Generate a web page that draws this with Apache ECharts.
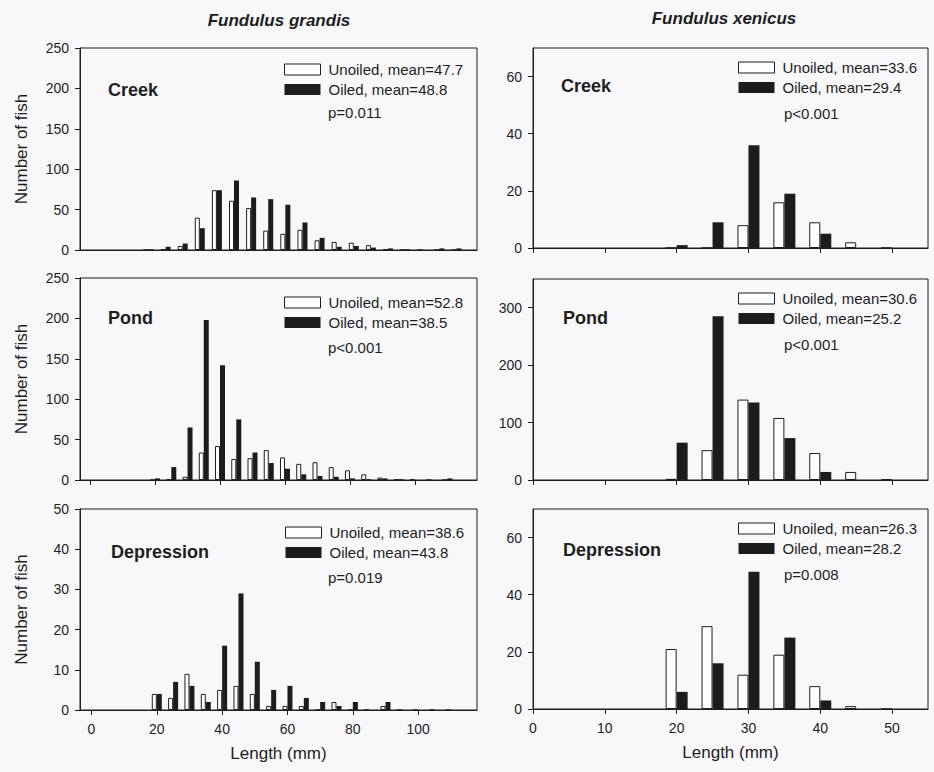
<!DOCTYPE html>
<html>
<head>
<meta charset="utf-8">
<script src="https://cdn.jsdelivr.net/npm/echarts@6/dist/echarts.min.js"></script>
<style>
  html, body { margin: 0; padding: 0; background: #f8f8fb; }
  #chart { width: 934px; height: 772px; }
</style>
</head>
<body>
<div id="chart"></div>
<script>
// Length-frequency histograms (5 mm bins) of two killifish species,
// unoiled vs oiled marsh sites, three habitat types each.

const FONT = '"Liberation Sans", Arial, Helvetica, sans-serif';
const INK = '#1e1e1e';

// ---- Fundulus grandis (bin centres in mm) ----
const grandisBins = [20, 25, 30, 35, 40, 45, 50, 55, 60, 65, 70, 75, 80, 85, 90, 95, 100, 105, 110];

const creekGrandisUnoiled = [0, 1, 5, 40, 74, 61, 52, 24, 20, 25, 12, 10, 9, 6, 1, 0, 0, 0, 0];
const creekGrandisOiled   = [1, 4, 8, 27, 74, 86, 65, 63, 56, 34, 15, 4, 5, 3, 2, 1, 0, 2, 2];

const pondGrandisUnoiled  = [0, 1, 4, 34, 42, 26, 27, 37, 28, 20, 22, 16, 12, 7, 3, 1, 1, 0, 0];
const pondGrandisOiled    = [2, 16, 65, 198, 142, 75, 34, 21, 14, 7, 5, 4, 2, 1, 2, 1, 0, 0, 2];

const deprGrandisUnoiled  = [4, 3, 9, 4, 5, 6, 4, 1, 1, 1, 0, 2, 0, 0, 1, 0, 0, 0, 0];
const deprGrandisOiled    = [4, 7, 6, 2, 16, 29, 12, 5, 6, 3, 2, 1, 2, 0, 2, 0, 0, 0, 0];

// ---- Fundulus xenicus ----
const xenicusBins = [20, 25, 30, 35, 40, 45, 50];

const creekXenicusUnoiled = [0, 0, 8, 16, 9, 2, 0];
const creekXenicusOiled   = [1, 9, 36, 19, 5, 0, 0];

const pondXenicusUnoiled  = [2, 52, 140, 108, 47, 14, 1];
const pondXenicusOiled    = [65, 285, 135, 73, 14, 0, 0];

const deprXenicusUnoiled  = [21, 29, 12, 19, 8, 1, 0];
const deprXenicusOiled    = [6, 16, 48, 25, 3, 0, 0];

// ---- tick labels ----
const grandisLengthTicks = [0, 20, 40, 60, 80, 100];
const xenicusLengthTicks = [0, 10, 20, 30, 40, 50];
const countTicks250 = [0, 50, 100, 150, 200, 250];
const countTicks50  = [0, 10, 20, 30, 40, 50];
const countTicks60  = [0, 20, 40, 60];
const countTicks300 = [0, 100, 200, 300];

const speciesTitles = ['Fundulus grandis', 'Fundulus xenicus'];
const siteNames = ['Creek', 'Pond', 'Depression'];
const meanLabels = [
  ['Unoiled, mean=47.7', 'Oiled, mean=48.8'],
  ['Unoiled, mean=52.8', 'Oiled, mean=38.5'],
  ['Unoiled, mean=38.6', 'Oiled, mean=43.8'],
  ['Unoiled, mean=33.6', 'Oiled, mean=29.4'],
  ['Unoiled, mean=30.6', 'Oiled, mean=25.2'],
  ['Unoiled, mean=26.3', 'Oiled, mean=28.2']
];
const pValues = ['p=0.011', 'p<0.001', 'p=0.019', 'p<0.001', 'p<0.001', 'p=0.008'];

// panel layout: column 0 = grandis, column 1 = xenicus
const panels = [
  { bins: grandisBins, unoiled: creekGrandisUnoiled, oiled: creekGrandisOiled, site: 0,
    grid: { left: 80, top: 48, width: 397, height: 202 },
    xMin: 0, xMax: 116, xTicks: null, yMax: 250, yTicks: countTicks250, barW: 5,
    legendAt: [284, 62], pAt: [328, 112], siteAt: [108, 90], yName: true, xName: false },
  { bins: grandisBins, unoiled: pondGrandisUnoiled, oiled: pondGrandisOiled, site: 1,
    grid: { left: 80, top: 278, width: 397, height: 202 },
    xMin: -3.1, xMax: 119.1, xTicks: grandisLengthTicks, xLabels: false, yMax: 250, yTicks: countTicks250, barW: 5,
    legendAt: [284, 295], pAt: [328, 347], siteAt: [108, 318], yName: true, xName: false },
  { bins: grandisBins, unoiled: deprGrandisUnoiled, oiled: deprGrandisOiled, site: 2,
    grid: { left: 80, top: 509, width: 397, height: 201 },
    xMin: -3.5, xMax: 118, xTicks: grandisLengthTicks, xLabels: true, yMax: 50, yTicks: countTicks50, barW: 5,
    legendAt: [285, 525], pAt: [328, 577], siteAt: [111, 552], yName: true, xName: true },
  { bins: xenicusBins, unoiled: creekXenicusUnoiled, oiled: creekXenicusOiled, site: 0,
    grid: { left: 533, top: 48, width: 395, height: 200 },
    xMin: 0, xMax: 55, xTicks: xenicusLengthTicks, xLabels: false, yMax: 70, yTicks: countTicks60, barW: 11,
    legendAt: [738, 60], pAt: [784, 113], siteAt: [561, 86], yName: false, xName: false },
  { bins: xenicusBins, unoiled: pondXenicusUnoiled, oiled: pondXenicusOiled, site: 1,
    grid: { left: 533, top: 279, width: 395, height: 201 },
    xMin: 0, xMax: 55, xTicks: xenicusLengthTicks, xLabels: false, yMax: 350, yTicks: countTicks300, barW: 11,
    legendAt: [738, 291], pAt: [784, 344], siteAt: [563, 318], yName: false, xName: false },
  { bins: xenicusBins, unoiled: deprXenicusUnoiled, oiled: deprXenicusOiled, site: 2,
    grid: { left: 533, top: 509, width: 395, height: 200 },
    xMin: 0, xMax: 55, xTicks: xenicusLengthTicks, xLabels: true, yMax: 70, yTicks: countTicks60, barW: 11,
    legendAt: [738, 521], pAt: [784, 574], siteAt: [563, 550], yName: false, xName: true }
];

const grids = [], xAxes = [], yAxes = [], series = [], legends = [], texts = [];

panels.forEach((p, i) => {
  const [unoiledName, oiledName] = meanLabels[i];

  grids.push(Object.assign({ show: true, borderColor: INK, borderWidth: 1, backgroundColor: 'transparent' }, p.grid));

  xAxes.push({
    type: 'value', gridIndex: i, min: p.xMin, max: p.xMax,
    name: p.xName ? 'Length (mm)' : '', nameLocation: 'middle', nameGap: 35,
    nameTextStyle: { fontFamily: FONT, fontSize: 17, color: INK },
    axisLine: { show: true, onZero: false, lineStyle: { color: INK, width: 1 } },
    axisTick: p.xTicks ? { show: true, inside: false, length: 5, lineStyle: { color: INK }, customValues: p.xTicks } : { show: false },
    axisLabel: p.xLabels ? { show: true, margin: 12, fontFamily: FONT, fontSize: 14, color: INK, customValues: p.xTicks } : { show: false },
    splitLine: { show: false }
  });

  yAxes.push({
    type: 'value', gridIndex: i, min: 0, max: p.yMax,
    name: p.yName ? 'Number of fish' : '', nameLocation: 'middle', nameRotate: 90, nameGap: 50,
    nameTextStyle: { fontFamily: FONT, fontSize: 17, color: INK },
    axisLine: { show: true, onZero: false, lineStyle: { color: INK, width: 1 } },
    axisTick: { show: true, inside: false, length: 5, lineStyle: { color: INK }, customValues: p.yTicks },
    axisLabel: { show: true, margin: 11, fontFamily: FONT, fontSize: 14, color: INK, customValues: p.yTicks },
    splitLine: { show: false }
  });

  series.push({
    type: 'bar', name: unoiledName, xAxisIndex: i, yAxisIndex: i,
    barWidth: p.barW, barGap: '0%',
    data: p.bins.map((b, k) => [b, p.unoiled[k]]),
    itemStyle: { color: '#ffffff', borderColor: INK, borderWidth: 1 },
    silent: true
  });
  series.push({
    type: 'bar', name: oiledName, xAxisIndex: i, yAxisIndex: i,
    barWidth: p.barW, barGap: '0%',
    data: p.bins.map((b, k) => [b, p.oiled[k]]),
    itemStyle: { color: '#1c1c1c' },
    silent: true
  });

  legends.push({
    left: p.legendAt[0], top: p.legendAt[1], orient: 'vertical', padding: 0,
    itemWidth: 36, itemHeight: 11, itemGap: 5, icon: 'rect', selectedMode: false,
    textStyle: { fontFamily: FONT, fontSize: 15, color: INK, padding: [0, 0, 0, 3] },
    data: [
      { name: unoiledName, itemStyle: { color: '#ffffff', borderColor: INK, borderWidth: 1 } },
      { name: oiledName, itemStyle: { color: '#1c1c1c', borderWidth: 0 } }
    ]
  });

  texts.push({
    type: 'text', x: p.pAt[0], y: p.pAt[1], silent: true,
    style: { text: pValues[i], font: '15px ' + FONT, fill: INK, align: 'left', verticalAlign: 'middle' }
  });
  texts.push({
    type: 'text', x: p.siteAt[0], y: p.siteAt[1], silent: true,
    style: { text: siteNames[p.site], font: 'bold 18px ' + FONT, fill: INK, align: 'left', verticalAlign: 'middle' }
  });
});

texts.push({
  type: 'text', x: 279, y: 20, silent: true,
  style: { text: speciesTitles[0], font: 'italic bold 17px ' + FONT, fill: INK, align: 'center', verticalAlign: 'middle' }
});
texts.push({
  type: 'text', x: 724, y: 18, silent: true,
  style: { text: speciesTitles[1], font: 'italic bold 17px ' + FONT, fill: INK, align: 'center', verticalAlign: 'middle' }
});

const chart = echarts.init(document.getElementById('chart'), null, { renderer: 'svg' });
chart.setOption({
  backgroundColor: '#f8f8fb',
  animation: false,
  grid: grids,
  xAxis: xAxes,
  yAxis: yAxes,
  legend: legends,
  series: series,
  graphic: texts
});
</script>
</body>
</html>
